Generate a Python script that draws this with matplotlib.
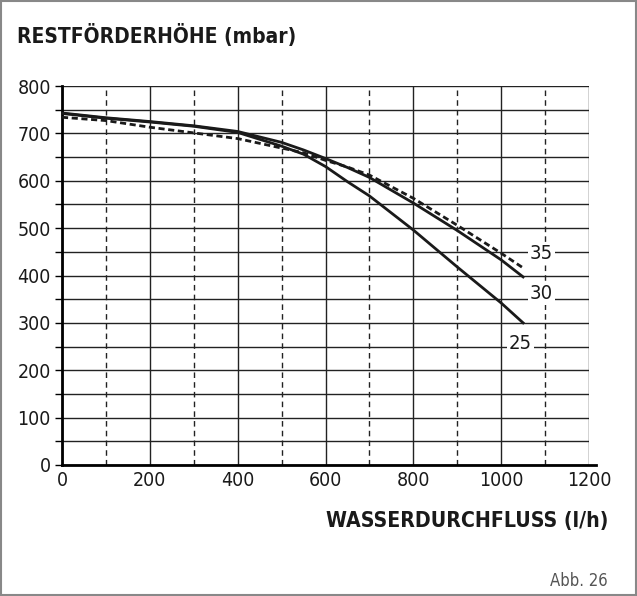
import matplotlib.pyplot as plt
from matplotlib.ticker import MultipleLocator
from matplotlib.patches import Rectangle

# Durchfluss (l/h) und Restförderhöhe (mbar) je Pumpenstufe
durchfluss = [0, 100, 200, 300, 400, 500, 550, 600, 650, 700, 800, 900, 1000, 1050]
stufe_25 = [742, 732, 724, 715, 702, 673, 656, 630, 598, 568, 496, 418, 342, 300]
stufe_30 = [743, 733, 725, 716, 704, 681, 665, 647, 628, 607, 553, 495, 433, 397]
stufe_35 = [734, 727, 713, 701, 689, 669, 659, 643, 629, 612, 563, 506, 447, 416]

etiketten = ["25", "30", "35"]
etikett_pos = [(1043, 257), (1092, 363), (1092, 447)]

plt.rcParams['font.family'] = 'DejaVu Sans'
plt.rcParams['font.stretch'] = 'condensed'

fig = plt.figure(figsize=(6.37, 5.96), dpi=100)
ax = fig.add_axes([62 / 637, 1 - 465 / 596, 527 / 637, 379 / 596])

ax.plot(durchfluss, stufe_25, color="#1a1a1a", lw=2.0, zorder=4)
ax.plot(durchfluss, stufe_30, color="#1a1a1a", lw=2.0, zorder=4)
ax.plot(durchfluss, stufe_35, color="#1a1a1a", lw=2.0, ls=(0, (2.2, 1.3)), zorder=4)

for txt, (px, py) in zip(etiketten, etikett_pos):
    ax.text(px, py, txt, fontsize=14.5, ha="center", va="center", color="#1a1a1a",
            bbox=dict(facecolor="white", edgecolor="none", pad=1.5), zorder=5)

ax.set_xlim(0, 1200)
ax.set_ylim(0, 800)
ax.xaxis.set_major_locator(MultipleLocator(200))
ax.xaxis.set_minor_locator(MultipleLocator(100))
ax.yaxis.set_major_locator(MultipleLocator(100))
ax.yaxis.set_minor_locator(MultipleLocator(50))

ax.grid(axis="x", which="major", color="#222222", lw=1.0)
ax.grid(axis="x", which="minor", color="#222222", lw=1.0, ls=(0, (4, 3)))
ax.grid(axis="y", which="both", color="#222222", lw=1.0)
ax.set_axisbelow(True)

for s in ["top", "right"]:
    ax.spines[s].set_visible(False)
ax.spines["left"].set_linewidth(2.0)
ax.spines["bottom"].set_linewidth(2.0)
ax.spines["bottom"].set_bounds(0, 1215)

ax.tick_params(axis="x", which="both", length=0, pad=4, labelsize=14, labelcolor="#1a1a1a")
ax.tick_params(axis="y", which="both", length=5, width=1.0, pad=3, labelsize=14, labelcolor="#1a1a1a")

fig.text(17 / 637, 1 - 35 / 596, "RESTFÖRDERHÖHE (mbar)", fontsize=15,
         fontweight="bold", ha="left", va="center", color="#1a1a1a")
fig.text(608 / 637, 1 - 521 / 596, "WASSERDURCHFLUSS (l/h)", fontsize=15.2,
         fontweight="bold", ha="right", va="center", color="#1a1a1a")
fig.text(608 / 637, 1 - 581 / 596, "Abb. 26", fontsize=12,
         ha="right", va="center", color="#555555")

fig.add_artist(Rectangle((0.002, 0.002), 0.996, 0.996, transform=fig.transFigure,
                         fill=False, edgecolor="#888888", lw=1.5))

fig.savefig("out.png", dpi=100)
